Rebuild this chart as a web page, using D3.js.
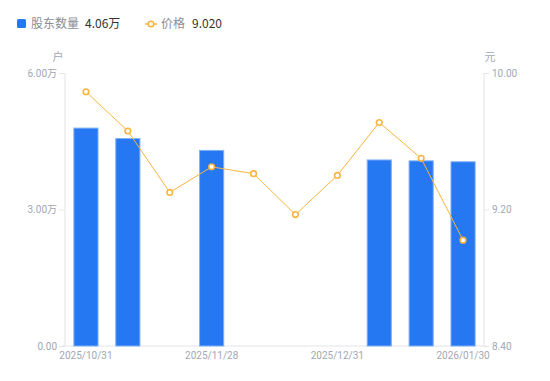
<!DOCTYPE html>
<html><head><meta charset="utf-8">
<script src="https://cdn.jsdelivr.net/npm/d3@7"></script>
<style>body{margin:0;background:#fff;font-family:"Noto Sans CJK SC","Noto Sans",sans-serif;}</style>
</head><body>
<svg id="c" width="550" height="381"></svg>
<script>
const categories = ["2025/10/31","2025/11/07","2025/11/20","2025/11/28","2025/12/10","2025/12/19","2025/12/31","2026/01/09","2026/01/20","2026/01/30"];
const holders = [4.80, 4.57, null, 4.31, null, null, null, 4.10, 4.08, 4.06]; // 万户
const prices = [9.89, 9.66, 9.30, 9.45, 9.41, 9.17, 9.40, 9.71, 9.50, 9.02];
const leftTicks = [0, 3, 6];
const rightTicks = [8.4, 9.2, 10.0];
const xLabelIdx = [0, 3, 6, 9];

const svg = d3.select("#c");
const L = 65, R = 484, T = 73, B = 346;
const x = d3.scaleBand().domain(categories).range([L, R]).paddingInner(0.4).paddingOuter(0.2);
const xc = d => x(d) + x.bandwidth() / 2;
const yL = d3.scaleLinear().domain([0, 6]).range([B, T]);
const yR = d3.scaleLinear().domain([8.4, 10]).range([B, T]);
const tickCol = "#a3a7b3", axCol = "#e3e4e8";

// axes
const gl = svg.append("g").attr("transform", `translate(${L},0)`)
  .call(d3.axisLeft(yL).tickValues(leftTicks).tickSize(6).tickPadding(2)
    .tickFormat(d => d === 0 ? "0.00" : d.toFixed(2) + "万"));
const gr = svg.append("g").attr("transform", `translate(${R},0)`)
  .call(d3.axisRight(yR).tickValues(rightTicks).tickSize(5).tickPadding(3)
    .tickFormat(d => d.toFixed(2)));
[gl, gr].forEach(g => {
  g.select(".domain").attr("stroke", axCol);
  g.selectAll(".tick line").attr("stroke", axCol);
  g.selectAll(".tick text").attr("fill", tickCol).style("font-size", "10px")
    .style("font-family", "Roboto, 'Noto Sans CJK SC', sans-serif");
});
gl.select(".domain").attr("d", `M0,${T}V${B}`);
gr.select(".domain").attr("d", `M0,${T}V${B}`);

const gx = svg.append("g").attr("transform", `translate(0,${B})`)
  .call(d3.axisBottom(x).tickValues(xLabelIdx.map(i => categories[i])).tickSize(0).tickPadding(6));
gx.select(".domain").attr("stroke", axCol).attr("d", `M${L-3},0H${R+2}`);
gx.selectAll(".tick text").attr("fill", tickCol).style("font-size", "10px")
  .style("font-family", "Roboto, sans-serif");

// units
svg.append("text").attr("x", 58).attr("y", 61).attr("text-anchor", "middle")
  .attr("fill", tickCol).style("font-size", "11px").text("户");
svg.append("text").attr("x", 490).attr("y", 61).attr("text-anchor", "middle")
  .attr("fill", tickCol).style("font-size", "11px").text("元");

// bars
svg.append("g").selectAll("rect").data(categories.map((c, i) => ({c, v: holders[i]})).filter(d => d.v != null))
  .join("rect")
  .attr("x", d => x(d.c) + 0.5).attr("width", x.bandwidth() - 1)
  .attr("y", d => yL(d.v) + 0.5).attr("height", d => B - yL(d.v) - 0.5)
  .attr("fill", "#2677f2").attr("stroke", "#7fb0f7").attr("stroke-width", 1);

// line
const lc = "#f9b53f";
svg.append("path").datum(prices)
  .attr("d", d3.line().x((d, i) => xc(categories[i])).y(d => yR(d)))
  .attr("fill", "none").attr("stroke", lc).attr("stroke-width", 1);
svg.append("g").selectAll("circle").data(prices).join("circle")
  .attr("cx", (d, i) => xc(categories[i])).attr("cy", d => yR(d)).attr("r", 2.8)
  .attr("fill", "#fff").attr("stroke", lc).attr("stroke-width", 1.6);

// legend
const lg = svg.append("g").style("font-size", "12px");
lg.append("rect").attr("x", 17).attr("y", 19).attr("width", 9).attr("height", 9).attr("rx", 1.5).attr("fill", "#2677f2");
lg.append("text").attr("x", 31).attr("y", 28).attr("fill", "#8a8d96").text("股东数量");
lg.append("text").attr("x", 85).attr("y", 28).attr("fill", "#333").text("4.06万");
lg.append("line").attr("x1", 145).attr("x2", 157).attr("y1", 24).attr("y2", 24).attr("stroke", lc).attr("stroke-width", 1.5);
lg.append("circle").attr("cx", 151).attr("cy", 24).attr("r", 2.8).attr("fill", "#fff").attr("stroke", lc).attr("stroke-width", 1.6);
lg.append("text").attr("x", 161).attr("y", 28).attr("fill", "#8a8d96").text("价格");
lg.append("text").attr("x", 192).attr("y", 28).attr("fill", "#333").text("9.020");
</script>
</body></html>
